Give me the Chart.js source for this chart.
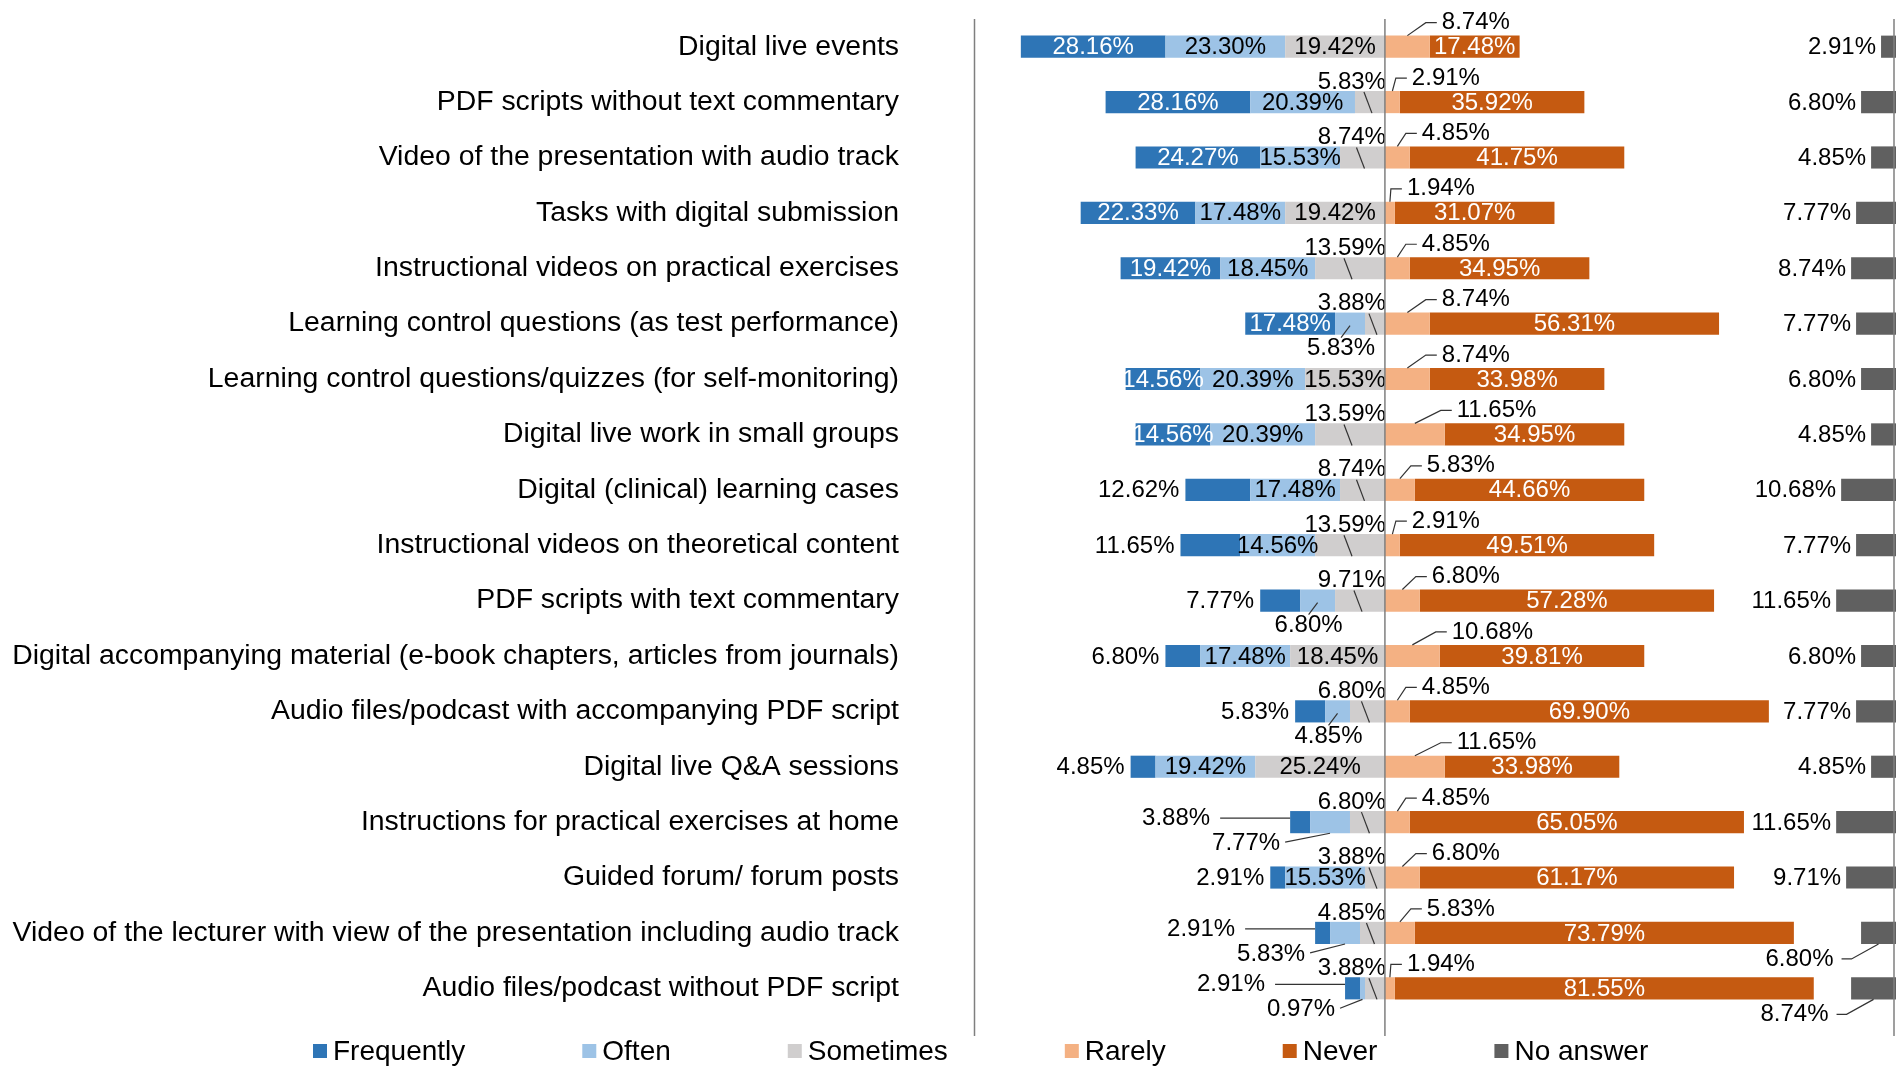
<!DOCTYPE html>
<html>
<head>
<meta charset="utf-8">
<title>Use of digital teaching formats</title>
<script src="https://cdn.jsdelivr.net/npm/chart.js@4.4.1/dist/chart.umd.min.js"></script>
<style>
  html, body { margin: 0; padding: 0; background: #fff; }
  #chart-wrapper { position: relative; width: 1902px; height: 1084px; }
</style>
</head>
<body>
<div id="chart-wrapper"><canvas id="myChart"></canvas></div>
<script>
// Categories, top to bottom
const categories = [
  "Digital live events",
  "PDF scripts without text commentary",
  "Video of the presentation with audio track",
  "Tasks with digital submission",
  "Instructional videos on practical exercises",
  "Learning control questions (as test performance)",
  "Learning control questions/quizzes (for self-monitoring)",
  "Digital live work in small groups",
  "Digital (clinical) learning cases",
  "Instructional videos on theoretical content",
  "PDF scripts with text commentary",
  "Digital accompanying material (e-book chapters, articles from journals)",
  "Audio files/podcast with accompanying PDF script",
  "Digital live Q&A sessions",
  "Instructions for practical exercises at home",
  "Guided forum/ forum posts",
  "Video of the lecturer with view of the presentation including audio track",
  "Audio files/podcast without PDF script",
];

// Answer shares in percent
const frequently = [28.16, 28.16, 24.27, 22.33, 19.42, 17.48, 14.56, 14.56, 12.62, 11.65, 7.77, 6.80, 5.83, 4.85, 3.88, 2.91, 2.91, 2.91];
const often      = [23.30, 20.39, 15.53, 17.48, 18.45, 5.83, 20.39, 20.39, 17.48, 14.56, 6.80, 17.48, 4.85, 19.42, 7.77, 15.53, 5.83, 0.97];
const sometimes  = [19.42, 5.83, 8.74, 19.42, 13.59, 3.88, 15.53, 13.59, 8.74, 13.59, 9.71, 18.45, 6.80, 25.24, 6.80, 3.88, 4.85, 3.88];
const rarely     = [8.74, 2.91, 4.85, 1.94, 4.85, 8.74, 8.74, 11.65, 5.83, 2.91, 6.80, 10.68, 4.85, 11.65, 4.85, 6.80, 5.83, 1.94];
const never      = [17.48, 35.92, 41.75, 31.07, 34.95, 56.31, 33.98, 34.95, 44.66, 49.51, 57.28, 39.81, 69.90, 33.98, 65.05, 61.17, 73.79, 81.55];
const noAnswer   = [2.91, 6.80, 4.85, 7.77, 8.74, 7.77, 6.80, 4.85, 10.68, 7.77, 11.65, 6.80, 7.77, 4.85, 11.65, 9.71, 6.80, 8.74];

// Axis range (left side is negative)
const X_MIN = -80;
const X_MAX = 99.5;

const FONT = '"Liberation Sans", Arial, sans-serif';
const INSIDE_MIN = 14; // segments smaller than this get their label outside
const LEGEND_LEFT = 313;
const LEGEND_GAP = 117;

// Draws the percent labels, with leader lines for the small segments
const segLabels = {
  id: "segLabels",
  afterDatasetsDraw(chart) {
    const ctx = chart.ctx;
    const zeroX = chart.scales.x.getPixelForValue(0);
    const metaOf = (key) => chart.getDatasetMeta(chart.data.datasets.findIndex((d) => d.key === key));
    const line = (pts) => {
      ctx.beginPath();
      ctx.moveTo(pts[0][0], pts[0][1]);
      for (let k = 1; k < pts.length; k++) ctx.lineTo(pts[k][0], pts[k][1]);
      ctx.stroke();
    };
    // rows where the outer end of the left bar is too tight for the labels
    const crowded = (j) => frequently[j] < 4.5 && often[j] < INSIDE_MIN;

    ctx.save();
    ctx.font = "24px " + FONT;
    ctx.textBaseline = "middle";
    ctx.strokeStyle = "#333";
    ctx.lineWidth = 1.2;

    chart.data.datasets.forEach((ds, i) => {
      const meta = chart.getDatasetMeta(i);
      meta.data.forEach((bar, j) => {
        const v = Math.abs(ds.data[j]);
        const p = bar.getProps(["x", "y", "base", "height"], true);
        const left = Math.min(p.x, p.base);
        const right = Math.max(p.x, p.base);
        const mid = (left + right) / 2;
        const top = p.y - p.height / 2;
        const bottom = p.y + p.height / 2;
        const txt = v.toFixed(2) + "%";
        const w = ctx.measureText(txt).width;

        if (ds.key !== "none" && v >= INSIDE_MIN) {
          ctx.fillStyle = ds.textColor;
          ctx.textAlign = "center";
          ctx.fillText(txt, mid, p.y + 1);
          return;
        }
        ctx.fillStyle = "#000";
        if (ds.key === "freq") {
          ctx.textAlign = "right";
          if (crowded(j)) {
            const tx = left - 80;
            const ty = p.y - 4;
            ctx.fillText(txt, tx, ty);
            line([[tx + 10, ty], [left, ty]]);
          } else {
            ctx.fillText(txt, left - 6, p.y + 1);
          }
        } else if (ds.key === "often") {
          if (crowded(j)) {
            const freqLeft = metaOf("freq").data[j].x;
            const ty = p.y + 21;
            const tx = freqLeft - 10;
            ctx.textAlign = "right";
            ctx.fillText(txt, tx, ty);
            line([[tx + 5, ty - 1], [mid, bottom]]);
          } else {
            const ty = p.y + 25;
            const tx = mid - 9;
            ctx.textAlign = "center";
            ctx.fillText(txt, tx, ty);
            line([[tx, ty - 11], [mid, p.y + 2]]);
          }
        } else if (ds.key === "some") {
          const ty = p.y - 20;
          ctx.textAlign = "right";
          ctx.fillText(txt, zeroX + 1, ty);
          line([[mid - 6, ty + 10], [mid + 2, bottom]]);
        } else if (ds.key === "rare") {
          const ty = p.y - 24;
          const tx = right + 12;
          ctx.textAlign = "left";
          ctx.fillText(txt, tx, ty);
          line([[mid, top], [tx - 16, ty], [tx - 5, ty]]);
        } else if (ds.key === "none") {
          const neverEnd = metaOf("never").data[j].x;
          ctx.textAlign = "right";
          if (neverEnd > left - 9 - w) {
            // no room beside the bar: put it below
            const ty = p.y + 26;
            const tx = mid - 45;
            ctx.fillText(txt, tx, ty);
            line([[tx + 8, ty], [tx + 18, ty], [mid, bottom]]);
          } else {
            ctx.fillText(txt, left - 5, p.y + 1);
          }
        }
      });
    });
    ctx.restore();
  },
};

// Vertical reference lines and the legend below the chart
const frame = {
  id: "frame",
  afterDraw(chart) {
    const { ctx, chartArea } = chart;
    const xs = [chartArea.left + 0.5, chart.scales.x.getPixelForValue(0), chartArea.right - 2];
    ctx.save();
    ctx.strokeStyle = "#7f7f7f";
    ctx.lineWidth = 1.5;
    xs.forEach((x) => {
      ctx.beginPath();
      ctx.moveTo(x, chartArea.top);
      ctx.lineTo(x, chartArea.bottom + 20);
      ctx.stroke();
    });

    const order = ["freq", "often", "some", "rare", "never", "none"];
    const ly = chartArea.bottom + 35;
    let lx = LEGEND_LEFT;
    ctx.font = "28px " + FONT;
    ctx.textBaseline = "middle";
    ctx.textAlign = "left";
    order.forEach((k) => {
      const ds = chart.data.datasets.find((d) => d.key === k);
      ctx.fillStyle = ds.backgroundColor;
      ctx.fillRect(lx, ly - 7, 14, 14);
      ctx.fillStyle = "#000";
      ctx.fillText(ds.label, lx + 20, ly + 1);
      lx += 20 + ctx.measureText(ds.label).width + LEGEND_GAP;
    });
    ctx.restore();
  },
};

// Negative values stack outward from zero in dataset order
const neg = (arr) => arr.map((v) => -v);

const data = {
  labels: categories,
  datasets: [
    { key: "some", label: "Sometimes", data: neg(sometimes), backgroundColor: "#D0CECE", textColor: "#000" },
    { key: "often", label: "Often", data: neg(often), backgroundColor: "#9DC3E6", textColor: "#000" },
    { key: "freq", label: "Frequently", data: neg(frequently), backgroundColor: "#2E75B6", textColor: "#fff" },
    { key: "rare", label: "Rarely", data: rarely, backgroundColor: "#F4B183", textColor: "#000" },
    { key: "never", label: "Never", data: never, backgroundColor: "#C55A11", textColor: "#fff" },
    { key: "none", label: "No answer", data: noAnswer, backgroundColor: "#606060", textColor: "#000", xAxisID: "x2" },
  ],
};

const config = {
  type: "bar",
  data: data,
  options: {
    indexAxis: "y",
    responsive: true,
    maintainAspectRatio: false,
    animation: false,
    datasets: { bar: { barPercentage: 0.4, categoryPercentage: 1.0, borderWidth: 0 } },
    layout: { padding: { left: 0, top: 19, right: 6, bottom: 68 } },
    scales: {
      x: { type: "linear", stacked: true, min: X_MIN, max: X_MAX, display: false },
      x2: { type: "linear", reverse: true, min: 0, max: X_MAX - X_MIN, display: false },
      y: {
        stacked: true,
        grid: { display: false, drawTicks: false },
        border: { display: false },
        ticks: { color: "#000", autoSkip: false, padding: 75, font: { family: FONT, size: 28.4 } },
        afterFit: (scale) => {
          // fixed axis width, no extra padding above/below the bands
          scale.width = 974;
          scale.paddingTop = 0;
          scale.paddingBottom = 0;
        },
      },
    },
    plugins: {
      legend: { display: false },
      tooltip: { enabled: false },
    },
  },
  plugins: [segLabels, frame],
};

new Chart(document.getElementById("myChart"), config);
</script>
</body>
</html>
